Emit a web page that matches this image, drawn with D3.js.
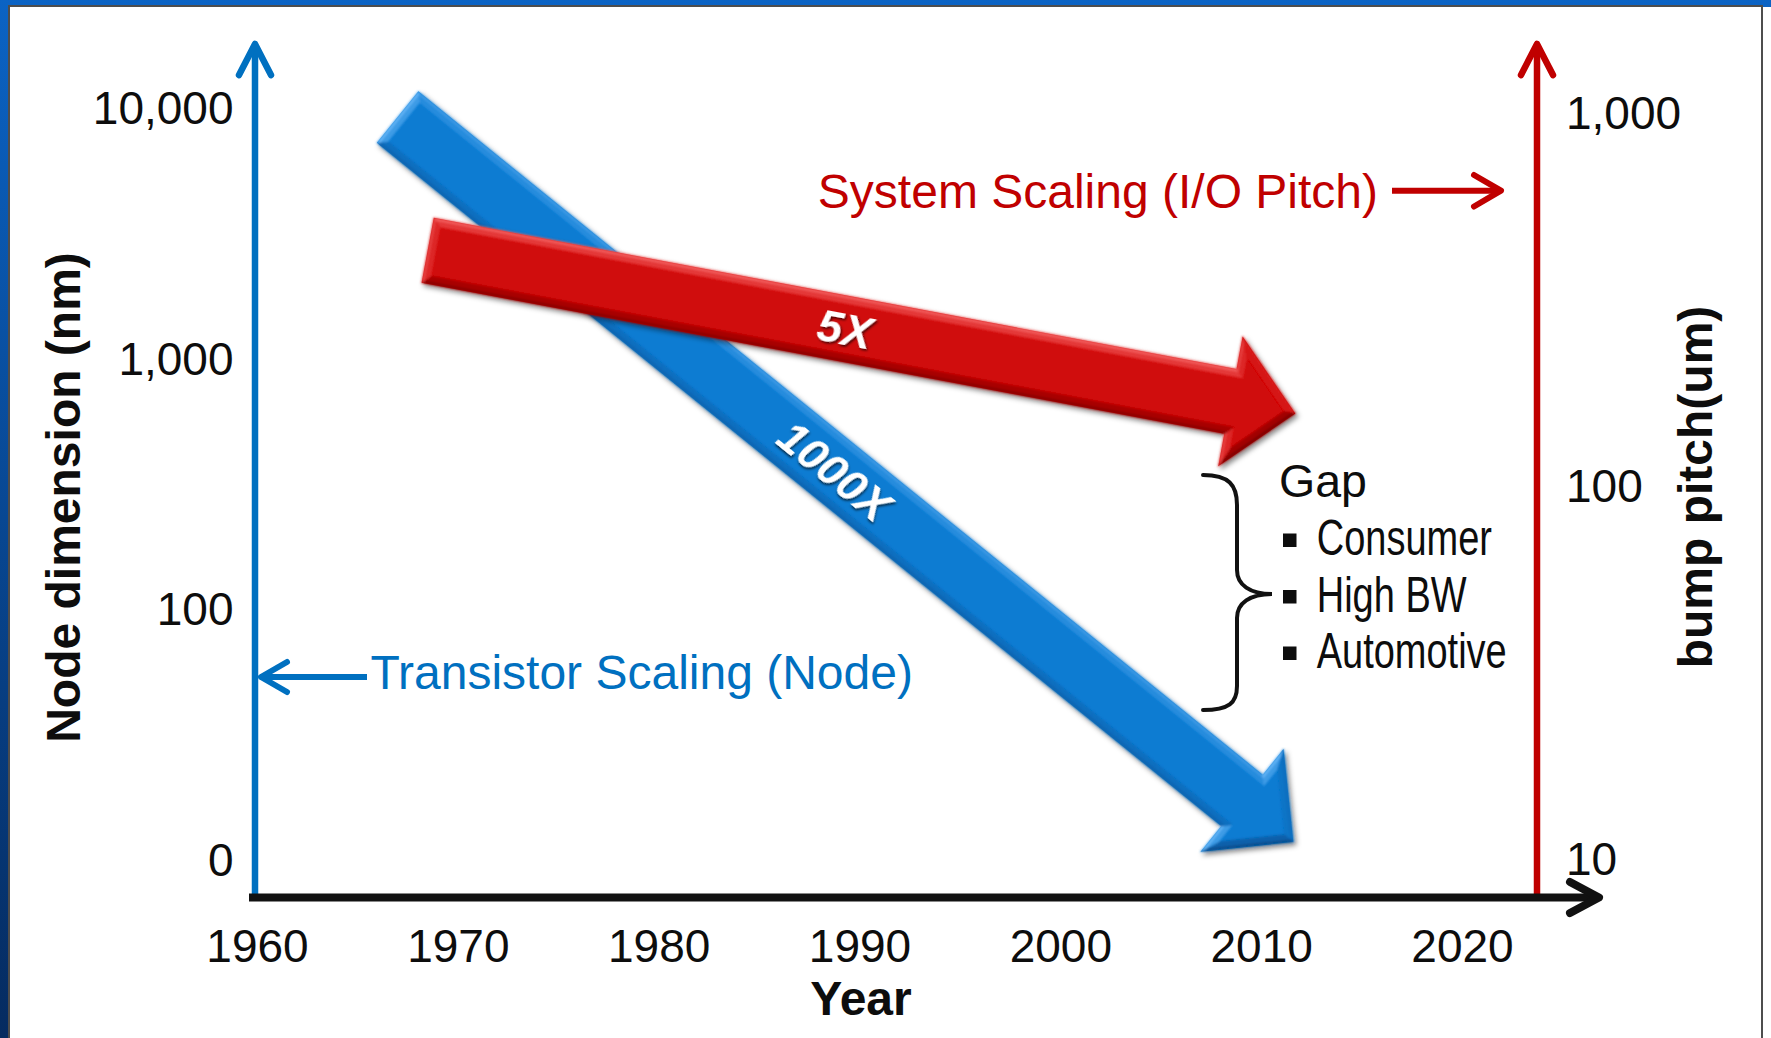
<!DOCTYPE html>
<html>
<head>
<meta charset="utf-8">
<script src="https://cdn.jsdelivr.net/npm/d3@7"></script>
<style>
  html, body { margin:0; padding:0; background:#fff; overflow:hidden; }
  svg { display:block; }
  text { font-family: "Liberation Sans", Arial, Helvetica, sans-serif; }
</style>
</head>
<body>
<svg id="chart" width="1771" height="1038"></svg>
<script>
// ---------------- DATA ----------------
const years = [1960, 1970, 1980, 1990, 2000, 2010, 2020];
const nodeTicks = [10, 100, 1000, 10000];
const nodeTickLabels = ["0", "100", "1,000", "10,000"];
const pitchTicks = [10, 100, 1000];
const pitchTickLabels = ["10", "100", "1,000"];
// trend arrows: [tail, tip]
const transistorTrend = [{ year: 1967.0, node: 9290 }, { year: 2011.6, node: 11.9 }];
const systemTrend = [{ year: 1968.5, pitch: 430 }, { year: 2011.7, pitch: 157 }];
const trendLabels = ["1000X", "5X"];
const gapTitle = "Gap";
const gapItems = ["Consumer", "High BW", "Automotive"];
const axisTitles = { left: "Node dimension (nm)", right: "bump pitch(um)", bottom: "Year" };
const seriesNames = ["Transistor Scaling (Node)", "System Scaling (I/O Pitch)"];

// ---------------- SETUP ----------------
const W = 1771, H = 1038;
const svg = d3.select("#chart");
const BLUE = "#0070c0", RED = "#c00000", INK = "#0d0d0d";

const x = d3.scaleLinear().domain([1960, 2020]).range([257, 1462]);
const yL = d3.scaleLog().domain([10, 10000]).range([860.8, 109]);
const yR = d3.scaleLog().domain([10, 1000]).range([859.8, 113.5]);

const axisLeftX = 255, axisRightX = 1537, axisBottomY = 897.5;

// ---------------- DEFS ----------------
const defs = svg.append("defs");
const bg = defs.append("linearGradient").attr("id", "frameGrad")
  .attr("x1", 0).attr("y1", 0).attr("x2", 0).attr("y2", 1);
bg.append("stop").attr("offset", "0%").attr("stop-color", "#0b63c4");
bg.append("stop").attr("offset", "100%").attr("stop-color", "#052b60");

const sh = defs.append("filter").attr("id", "arrowShadow")
  .attr("x", "-10%").attr("y", "-10%").attr("width", "120%").attr("height", "120%");
sh.append("feDropShadow").attr("dx", 2.5).attr("dy", 3).attr("stdDeviation", 2.5)
  .attr("flood-color", "#000").attr("flood-opacity", 0.45);

const tsh = defs.append("filter").attr("id", "textShadow")
  .attr("x", "-20%").attr("y", "-20%").attr("width", "140%").attr("height", "140%");
tsh.append("feDropShadow").attr("dx", 1.5).attr("dy", 1.5).attr("stdDeviation", 1.2)
  .attr("flood-color", "#000").attr("flood-opacity", 0.7);

const soft = defs.append("filter").attr("id", "soft")
  .attr("x", "-5%").attr("y", "-5%").attr("width", "110%").attr("height", "110%");
soft.append("feGaussianBlur").attr("stdDeviation", 0.9);

// ---------------- FRAME ----------------
svg.append("rect").attr("x", 0).attr("y", 0).attr("width", W).attr("height", H)
  .attr("fill", "url(#frameGrad)");
svg.append("rect").attr("x", 1763).attr("y", 7).attr("width", 8).attr("height", H)
  .attr("fill", "#ffffff");
svg.append("rect").attr("x", 9).attr("y", 6).attr("width", 1753).attr("height", H + 10)
  .attr("fill", "#ffffff").attr("stroke", "#4d4d4d").attr("stroke-width", 2);

// ---------------- 3D ARROWS ----------------
function arrowPoly(p0, p1, w, hw, hl) {
  const dx = p1[0] - p0[0], dy = p1[1] - p0[1], L = Math.hypot(dx, dy);
  const u = [dx / L, dy / L], n = [u[1], -u[0]];
  const base = [p1[0] - u[0] * hl, p1[1] - u[1] * hl];
  const pt = (c, s) => [c[0] + n[0] * s, c[1] + n[1] * s];
  return [pt(p0, w / 2), pt(base, w / 2), pt(base, hw / 2), p1,
          pt(base, -hw / 2), pt(base, -w / 2), pt(p0, -w / 2)];
}
function inwardNormals(poly) {
  const N = poly.length, res = [];
  for (let i = 0; i < N; i++) {
    const a = poly[i], b = poly[(i + 1) % N];
    const ex = b[0] - a[0], ey = b[1] - a[1], len = Math.hypot(ex, ey);
    let c = [-ey / len, ex / len];
    const mid = [(a[0] + b[0]) / 2 + c[0] * 1.5, (a[1] + b[1]) / 2 + c[1] * 1.5];
    if (!d3.polygonContains(poly, mid)) c = [-c[0], -c[1]];
    res.push(c);
  }
  return res;
}
function inset(poly, normals, d) {
  const N = poly.length;
  return poly.map((v, i) => {
    const np = normals[(i - 1 + N) % N], nn = normals[i];
    const k = d / (1 + np[0] * nn[0] + np[1] * nn[1]);
    return [v[0] + (np[0] + nn[0]) * k, v[1] + (np[1] + nn[1]) * k];
  });
}
function draw3DArrow(p0, p1, main, light, dark) {
  const g = svg.append("g").attr("filter", "url(#arrowShadow)");
  const poly = arrowPoly(p0, p1, 66, 132, 66);
  const normals = inwardNormals(poly);
  const lineGen = d3.line();
  g.append("path").attr("d", lineGen(poly) + "Z").attr("fill", main);
  const facets = g.append("g").attr("filter", "url(#soft)");
  const Ld = [-0.42, -1]; const Ll = Math.hypot(Ld[0], Ld[1]);
  const Lv = [Ld[0] / Ll, Ld[1] / Ll];
  const layers = [[0, 3, 0.9], [3, 8, 0.5]];
  layers.forEach(([d0, d1, strength]) => {
    const outer = inset(poly, normals, d0);
    const inner = inset(poly, normals, d1);
    for (let i = 0; i < poly.length; i++) {
      const j = (i + 1) % poly.length;
      const on = [-normals[i][0], -normals[i][1]];
      const s = on[0] * Lv[0] + on[1] * Lv[1];
      const col = s >= 0 ? d3.interpolateRgb(main, light)(Math.min(1, s * strength))
                         : d3.interpolateRgb(main, dark)(Math.min(1, -s * strength));
      facets.append("path")
        .attr("d", lineGen([outer[i], outer[j], inner[j], inner[i]]) + "Z")
        .attr("fill", col).attr("stroke", col).attr("stroke-width", 0.6);
    }
  });
  return g;
}

const blueP0 = [x(transistorTrend[0].year), yL(transistorTrend[0].node)];
const blueP1 = [x(transistorTrend[1].year), yL(transistorTrend[1].node)];
const redP0 = [x(systemTrend[0].year), yR(systemTrend[0].pitch)];
const redP1 = [x(systemTrend[1].year), yR(systemTrend[1].pitch)];

draw3DArrow(blueP0, blueP1, "#0c7bd2", "#7cc4ff", "#074480");
draw3DArrow(redP0, redP1, "#d00808", "#ff7a7a", "#700000");

function arrowLabel(p0, p1, t, txt) {
  const cx = p0[0] + (p1[0] - p0[0]) * t, cy = p0[1] + (p1[1] - p0[1]) * t;
  const ang = Math.atan2(p1[1] - p0[1], p1[0] - p0[0]) * 180 / Math.PI;
  svg.append("text")
    .attr("transform", `translate(${cx},${cy}) rotate(${ang})`)
    .attr("text-anchor", "middle").attr("dy", "0.36em")
    .attr("font-size", 45).attr("font-weight", "bold").attr("font-style", "italic")
    .attr("fill", "#ffffff").attr("filter", "url(#textShadow)")
    .text(txt);
}
arrowLabel(blueP0, blueP1, 0.488, trendLabels[0]);
arrowLabel(redP0, redP1, 0.481, trendLabels[1]);

// ---------------- AXES ----------------
function styleAxis(g) {
  g.select(".domain").remove();
  g.attr("font-family", null).attr("font-size", null);
  g.selectAll("text").attr("font-size", 46).attr("fill", INK)
    .attr("font-family", "Liberation Sans, Arial, sans-serif");
}
svg.append("g").attr("transform", `translate(${axisLeftX},0)`)
  .call(d3.axisLeft(yL).tickValues(nodeTicks).tickFormat((d, i) => nodeTickLabels[i])
    .tickSize(0).tickPadding(21.5))
  .call(styleAxis);
svg.append("g").attr("transform", `translate(${axisRightX},0)`)
  .call(d3.axisRight(yR).tickValues(pitchTicks).tickFormat((d, i) => pitchTickLabels[i])
    .tickSize(0).tickPadding(29))
  .call(styleAxis);
svg.append("g").attr("transform", `translate(0,${axisBottomY})`)
  .call(d3.axisBottom(x).tickValues(years).tickFormat(d3.format("d"))
    .tickSize(0).tickPadding(32))
  .call(styleAxis);

// axis lines with arrowheads
function vAxis(xp, color) {
  svg.append("line").attr("x1", xp).attr("x2", xp).attr("y1", axisBottomY - 2).attr("y2", 46)
    .attr("stroke", color).attr("stroke-width", 6.5);
  svg.append("path").attr("d", `M${xp - 16},${75} L${xp},${44} L${xp + 16},${75}`)
    .attr("fill", "none").attr("stroke", color).attr("stroke-width", 6.5)
    .attr("stroke-linecap", "round").attr("stroke-linejoin", "round");
}
vAxis(axisLeftX, BLUE);
vAxis(axisRightX, RED);
svg.append("line").attr("x1", 249).attr("x2", 1596).attr("y1", axisBottomY).attr("y2", axisBottomY)
  .attr("stroke", "#111").attr("stroke-width", 8);
svg.append("path").attr("d", `M1570,${axisBottomY - 15.5} L1599,${axisBottomY} L1570,${axisBottomY + 15.5}`)
  .attr("fill", "none").attr("stroke", "#111").attr("stroke-width", 8)
  .attr("stroke-linecap", "round").attr("stroke-linejoin", "round");

// axis titles
svg.append("text").attr("transform", "translate(80,497.5) rotate(-90)")
  .attr("text-anchor", "middle").attr("font-size", 48).attr("font-weight", "bold")
  .attr("fill", INK).text(axisTitles.left);
svg.append("text").attr("transform", "translate(1712,487) rotate(-90)")
  .attr("text-anchor", "middle").attr("font-size", 48).attr("font-weight", "bold")
  .attr("fill", INK).text(axisTitles.right);
svg.append("text").attr("x", 861).attr("y", 1015)
  .attr("text-anchor", "middle").attr("font-size", 48).attr("font-weight", "bold")
  .attr("fill", INK).text(axisTitles.bottom);

// ---------------- SERIES CALLOUTS ----------------
svg.append("text").attr("x", 370.5).attr("y", 689).attr("font-size", 48)
  .attr("fill", BLUE).text(seriesNames[0]);
svg.append("line").attr("x1", 367).attr("x2", 262).attr("y1", 677).attr("y2", 677)
  .attr("stroke", BLUE).attr("stroke-width", 6);
svg.append("path").attr("d", "M287,662 L261,677 L287,692")
  .attr("fill", "none").attr("stroke", BLUE).attr("stroke-width", 6)
  .attr("stroke-linecap", "round").attr("stroke-linejoin", "round");

svg.append("text").attr("x", 1378).attr("y", 208).attr("text-anchor", "end")
  .attr("font-size", 48).attr("fill", RED).text(seriesNames[1]);
svg.append("line").attr("x1", 1392).attr("x2", 1500).attr("y1", 190.7).attr("y2", 190.7)
  .attr("stroke", RED).attr("stroke-width", 6);
svg.append("path").attr("d", "M1474,175 L1501,190.7 L1474,206.5")
  .attr("fill", "none").attr("stroke", RED).attr("stroke-width", 6)
  .attr("stroke-linecap", "round").attr("stroke-linejoin", "round");

// ---------------- GAP ANNOTATION ----------------
svg.append("path")
  .attr("d", "M1203,475 C1229,475 1237,485 1237,505 L1237,570 C1237,585 1250,594 1272,594 " +
             "C1250,594 1237,603 1237,618 L1237,686 C1237,703 1229,710 1203,710")
  .attr("fill", "none").attr("stroke", "#111").attr("stroke-width", 4)
  .attr("stroke-linecap", "round");
svg.append("text").attr("x", 1279).attr("y", 497).attr("font-size", 46.5)
  .attr("fill", INK).text(gapTitle);
const gapG = svg.append("g");
gapItems.forEach((t, i) => {
  const by = 555 + i * 56.5;
  gapG.append("rect").attr("x", 1283).attr("y", by - 21.5).attr("width", 13.5).attr("height", 13.5)
    .attr("fill", INK);
  gapG.append("text").attr("transform", `translate(1316.7,${by}) scale(0.76,1)`)
    .attr("font-size", 50).attr("fill", INK).text(t);
});
</script>
</body>
</html>
